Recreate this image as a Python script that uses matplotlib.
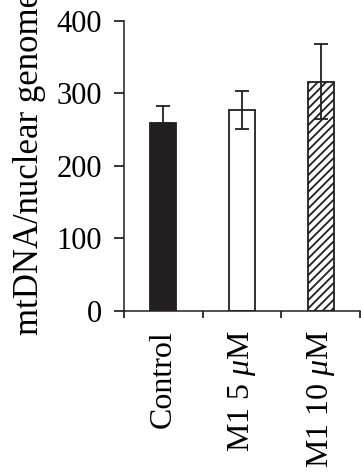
import matplotlib
matplotlib.use("Agg")
import matplotlib.pyplot as plt
import numpy as np

categories = ["Control", r"M1 5 $\mu$M", r"M1 10 $\mu$M"]
values = [259, 277, 316]
err_low = [0, 26, 51]
err_high = [23, 26, 51]
yticks = [0, 100, 200, 300, 400]
ylabel = "mtDNA/nuclear genome"

plt.rcParams['font.family'] = ['Liberation Serif']
plt.rcParams['mathtext.fontset'] = 'custom'
plt.rcParams['mathtext.rm'] = 'Liberation Serif'
plt.rcParams['mathtext.it'] = 'Liberation Serif:italic'
plt.rcParams['hatch.linewidth'] = 1.3

W, H = 361, 475
fig = plt.figure(figsize=(W/100, H/100), dpi=100)
ax = fig.add_axes([124/W, 1-311/H, (360-124)/W, (311-20.5)/H])

x = np.arange(len(categories))
fills = ['#231f20', 'white', 'white']
hatches = [None, None, '////']
for i in range(len(categories)):
    ax.bar(x[i], values[i], width=1/3, color=fills[i], edgecolor='#231f20',
           linewidth=1.3, hatch=hatches[i], zorder=2)
ax.errorbar(x, values, yerr=[err_low, err_high], fmt='none', ecolor='#231f20',
            elinewidth=1.3, capsize=5, capthick=1.3, zorder=3)

ax.set_xlim(-0.5, 2.5)
ax.set_ylim(0, 400)
ax.set_yticks(yticks)
ax.set_yticklabels([str(t) for t in yticks], fontsize=22)
ax.set_xticks(x)
ax.set_xticklabels(categories, rotation=90, fontsize=23, va='top', ha='center')
ax.set_xticks([-0.5, 0.5, 1.5, 2.5], minor=True)
ax.tick_params(axis='x', which='major', length=0, pad=14)
ax.tick_params(axis='x', which='minor', length=5, width=1.1, direction='out')
ax.tick_params(axis='y', length=7, width=1.1, direction='out', pad=9)
for s in ['top', 'right']:
    ax.spines[s].set_visible(False)
for s in ['left', 'bottom']:
    ax.spines[s].set_linewidth(1.1)
    ax.spines[s].set_color('#231f20')

fig.text(30/W, 1-335/H, ylabel, rotation=90, ha='center', va='bottom', fontsize=25)

fig.savefig("out.png", dpi=100)
